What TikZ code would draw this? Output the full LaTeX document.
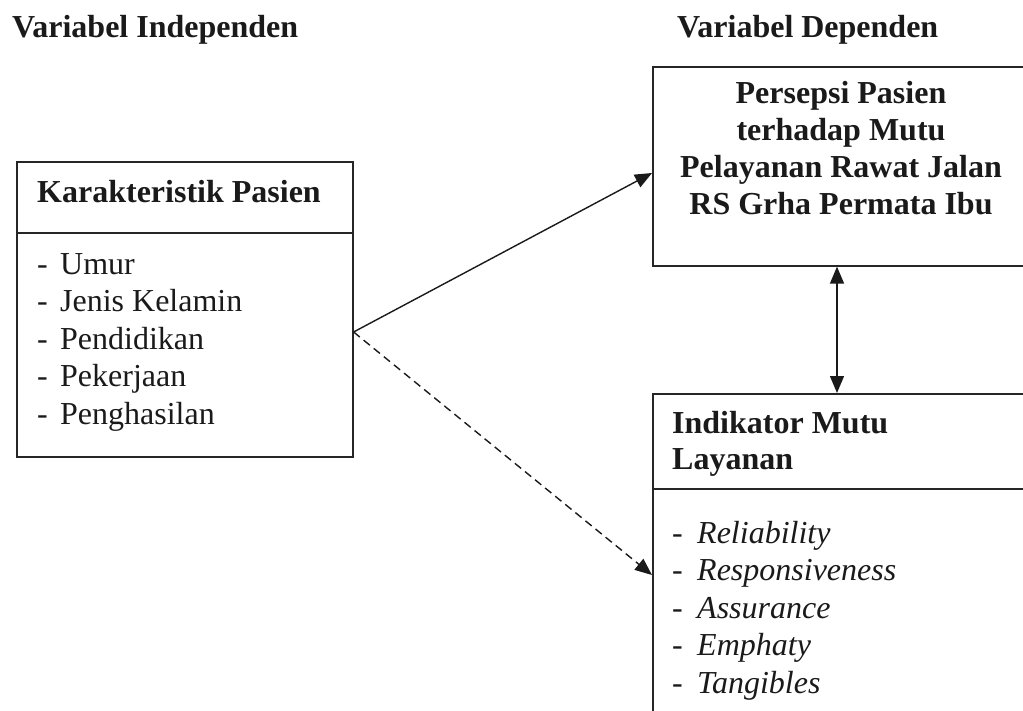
\documentclass[tikz,border=0pt]{standalone}
\usepackage{fontspec}
\setmainfont{Liberation Serif}
\usetikzlibrary{arrows.meta}
\definecolor{ink}{HTML}{1A1A1A}
\definecolor{frame}{HTML}{262626}
\begin{document}
\begin{tikzpicture}[x=1pt,y=-1pt,
  every node/.style={text=ink, inner sep=0pt, font=\fontsize{32}{37.3}\selectfont},
  box/.style={draw=frame, line width=1.6pt, anchor=north west, inner sep=0pt},
  label/.style={anchor=base west},
  heading/.style={anchor=base west, font=\fontsize{32}{37.3}\selectfont\bfseries},
  centerline/.style={anchor=base, font=\fontsize{32}{37.3}\selectfont\bfseries},
  tip/.tip={Triangle[length=17pt,width=14pt]},
  link/.style={draw=ink, line width=1.4pt, -tip},
  dashedlink/.style={link, dash pattern=on 8pt off 5pt},
  both/.style={draw=ink, line width=1.4pt, tip-tip}]
\useasboundingbox (0,0) rectangle (1023,710);
\clip (0,0) rectangle (1023,710);

% column titles
\node[heading] (tin) at (12,37) {Variabel Independen};
\node[heading] (tdep) at (677,37) {Variabel Dependen};

% patient characteristics box
\node[box, minimum width=336pt, minimum height=295pt] (kar) at (16,161) {};
\draw[draw=frame, line width=1.6pt] (kar.west |- 0,233) -- (kar.east |- 0,233);
\node[heading] (karh) at (37,202) {Karakteristik Pasien};
\foreach \t [count=\i from 0] in {Umur, Jenis Kelamin, Pendidikan, Pekerjaan, Penghasilan}
  \node[label] (k\i) at (37,274+37.5*\i) {\makebox[23pt][l]{-}\t};

% perception box (runs past the right edge)
\node[box, minimum width=400pt, minimum height=199pt] (per) at (652,66) {};
\foreach \t [count=\i from 0] in {Persepsi Pasien, terhadap Mutu, Pelayanan Rawat Jalan, RS Grha Permata Ibu}
  \node[centerline] (p\i) at (841,103+37.3*\i) {\t};

% quality indicator box (runs past the right and bottom edges)
\node[box, minimum width=400pt, minimum height=340pt] (ind) at (652,393) {};
\draw[draw=frame, line width=1.6pt] (ind.west |- 0,489) -- (ind.east |- 0,489);
\node[heading] (ih1) at (672,433) {Indikator Mutu};
\node[heading] (ih2) at (672,469) {Layanan};
\foreach \t [count=\i from 0] in {Reliability, Responsiveness, Assurance, Emphaty, Tangibles}
  \node[label] (d\i) at (672,543+37.5*\i) {\makebox[25pt][l]{-}\textit{\t}};

% connectors
\coordinate (src) at (kar.east |- 0,332);
\draw[link] (src) -- (per.west |- 0,173);
\draw[dashedlink] (src) -- (ind.west |- 0,575);
\draw[both] (per.south -| 837,0) -- (ind.north -| 837,0);
\end{tikzpicture}
\end{document}
